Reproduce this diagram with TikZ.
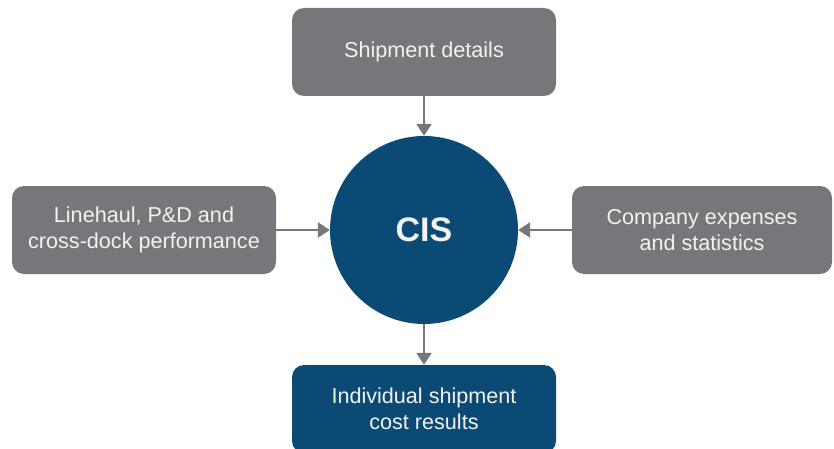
\documentclass[tikz,border=0pt]{standalone}
\usepackage{fontspec}
\setmainfont{Liberation Sans}
\usetikzlibrary{arrows.meta}
\definecolor{boxgray}{HTML}{76777A}
\definecolor{cisblue}{HTML}{0A4A75}
\definecolor{txt}{HTML}{F2F2F2}
\begin{document}
\begin{tikzpicture}[x=1pt,y=1pt,
  graybox/.style={fill=boxgray,rounded corners=12pt,minimum width=264pt,minimum height=88pt,inner sep=0pt,text=txt,align=center,font=\fontsize{21.6}{26.5}\selectfont},
  bluebox/.style={graybox,fill=cisblue},
  hub/.style={circle,fill=cisblue,minimum size=188pt,inner sep=0pt,text=txt,font=\fontsize{34}{40}\selectfont\bfseries},
  arr/.style={draw=boxgray,line width=2.6pt,-{Triangle[width=15pt,length=12pt]}}]
\useasboundingbox (0,0) rectangle (834,448);
\clip (0,0) rectangle (834,448);
\node[hub] (cis) at (424,218) {CIS};
\node[graybox] (top) at (424,396) {Shipment details};
\node[graybox] (left) at (144,218) {Linehaul, P\&D and\\cross-dock performance};
\node[graybox,minimum width=260pt] (right) at (702,218) {Company expenses\\and statistics};
\node[bluebox] (bottom) at (424,39) {Individual shipment\\cost results};
\draw[arr] (top) -- (cis);
\draw[arr] (left) -- (cis);
\draw[arr] (right) -- (cis);
\draw[arr] (cis) -- (bottom);
\end{tikzpicture}
\end{document}
